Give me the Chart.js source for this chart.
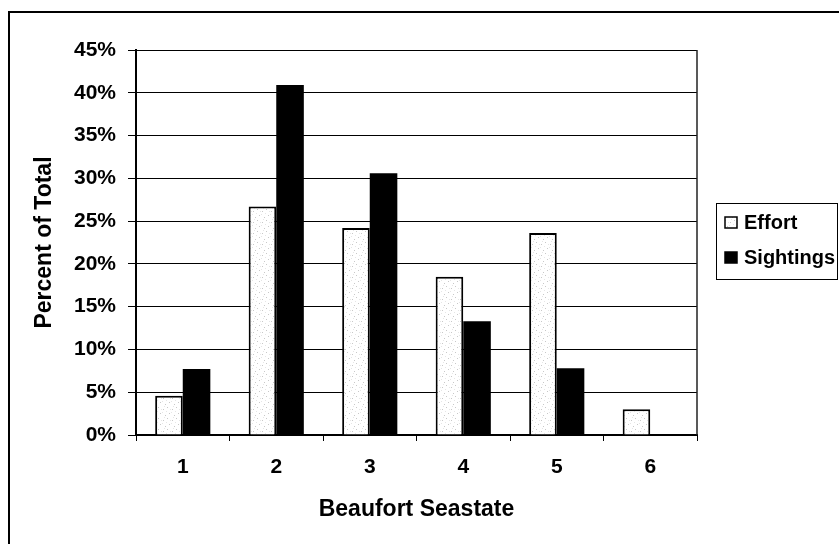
<!DOCTYPE html>
<html>
<head>
<meta charset="utf-8">
<style>
  html, body { margin: 0; padding: 0; background: #fff; }
  #wrap { width: 839px; height: 544px; }
</style>
<script src="https://cdn.jsdelivr.net/npm/chart.js@4/dist/chart.umd.min.js"></script>
</head>
<body>
<div id="wrap"><canvas id="c" width="839" height="544"></canvas></div>
<script>
const categories = ['1', '2', '3', '4', '5', '6'];
const seriesNames = ['Effort', 'Sightings'];
const effort = [4.6, 26.7, 24.2, 18.5, 23.6, 3.0];
const sightings = [7.7, 40.9, 30.6, 13.3, 7.8, 0];
const yTicks = [0, 5, 10, 15, 20, 25, 30, 35, 40, 45];
const xTitle = 'Beaufort Seastate';
const yTitle = 'Percent of Total';

const FONT = '"Liberation Sans", Arial, sans-serif';

function makeSpeckle() {
  const p = document.createElement('canvas');
  p.width = 9; p.height = 11;
  const g = p.getContext('2d');
  g.fillStyle = '#fff';
  g.fillRect(0, 0, 9, 11);
  g.fillStyle = '#c8c8c8';
  [[1,2],[5,0],[7,6],[3,8]].forEach(([x,y]) => g.fillRect(x, y, 1, 1));
  g.fillStyle = '#e6e6e6';
  [[4,4],[2,10],[8,2],[0,5]].forEach(([x,y]) => g.fillRect(x, y, 1, 1));
  return g.createPattern(p, 'repeat');
}

const canvas = document.getElementById('c');
const speckle = makeSpeckle();

const decor = {
  id: 'decor',
  beforeDraw(chart) {
    const ctx = chart.ctx;
    ctx.save();
    ctx.fillStyle = '#fff';
    ctx.fillRect(0, 0, chart.width, chart.height);
    ctx.strokeStyle = '#000';
    ctx.lineWidth = 2;
    ctx.strokeRect(9, 12, 900, 900);
    ctx.restore();
  },
  afterDraw(chart) {
    const ctx = chart.ctx;
    const a = chart.chartArea;
    ctx.save();
    ctx.strokeStyle = '#222';
    ctx.lineWidth = 1.5;
    ctx.beginPath();
    ctx.moveTo(a.right, a.top);
    ctx.lineTo(a.right, a.bottom);
    ctx.stroke();
    // legend
    const lx = 716.5, ly = 203.5, lw = 121, lh = 76;
    ctx.lineWidth = 1;
    ctx.strokeStyle = '#000';
    ctx.strokeRect(lx, ly, lw, lh);
    ctx.font = 'bold 20px ' + FONT;
    ctx.textBaseline = 'middle';
    ctx.textAlign = 'left';
    const rows = [222, 257];
    chart.data.datasets.forEach((ds, i) => {
      const y = rows[i];
      ctx.fillStyle = i === 0 ? speckle : '#000';
      ctx.fillRect(725, y - 5, 12, 11);
      ctx.lineWidth = 1.5;
      ctx.strokeStyle = '#000';
      ctx.strokeRect(725, y - 5, 12, 11);
      ctx.fillStyle = '#000';
      ctx.fillText(ds.label, 744, y + 1);
    });
    ctx.restore();
  }
};

new Chart(canvas, {
  type: 'bar',
  data: {
    labels: categories,
    datasets: [
      {
        label: seriesNames[0],
        data: effort,
        backgroundColor: speckle,
        borderColor: '#000',
        borderWidth: 2,
        borderSkipped: 'bottom'
      },
      {
        label: seriesNames[1],
        data: sightings,
        backgroundColor: '#000',
        borderColor: '#000',
        borderWidth: 0
      }
    ]
  },
  options: {
    responsive: false,
    animation: false,
    devicePixelRatio: 1,
    layout: { padding: { top: 50, right: 142, left: 0, bottom: 0 } },
    datasets: { bar: { categoryPercentage: 0.59, barPercentage: 1.0 } },
    plugins: {
      legend: { display: false },
      tooltip: { enabled: false },
      title: { display: false }
    },
    scales: {
      x: {
        offset: true,
        afterFit: (s) => { s.height = 109; },
        grid: {
          offset: true,
          drawOnChartArea: false,
          drawTicks: true,
          tickLength: 6,
          color: '#000',
          lineWidth: 1
        },
        border: { display: true, color: '#000', width: 2 },
        ticks: {
          color: '#000',
          padding: 14,
          font: { family: FONT, size: 21, weight: 'bold' }
        },
        title: {
          display: true,
          text: xTitle,
          color: '#000',
          font: { family: FONT, size: 23, weight: 'bold' },
          padding: { top: 0, bottom: 21 }
        }
      },
      y: {
        min: 0,
        max: 45,
        afterFit: (s) => { s.width = 136; },
        afterBuildTicks: (s) => { s.ticks = yTicks.map(v => ({ value: v })); },
        grid: {
          color: '#000',
          lineWidth: 1,
          drawTicks: true,
          tickLength: 8
        },
        border: { display: true, color: '#000', width: 2 },
        ticks: {
          color: '#000',
          padding: 12,
          font: { family: FONT, size: 21, weight: 'bold' },
          callback: (v) => v + '%'
        },
        title: {
          display: true,
          text: yTitle,
          color: '#000',
          font: { family: FONT, size: 23, weight: 'bold' },
          padding: { top: 31, bottom: 0 }
        }
      }
    }
  },
  plugins: [decor]
});
</script>
</body>
</html>
